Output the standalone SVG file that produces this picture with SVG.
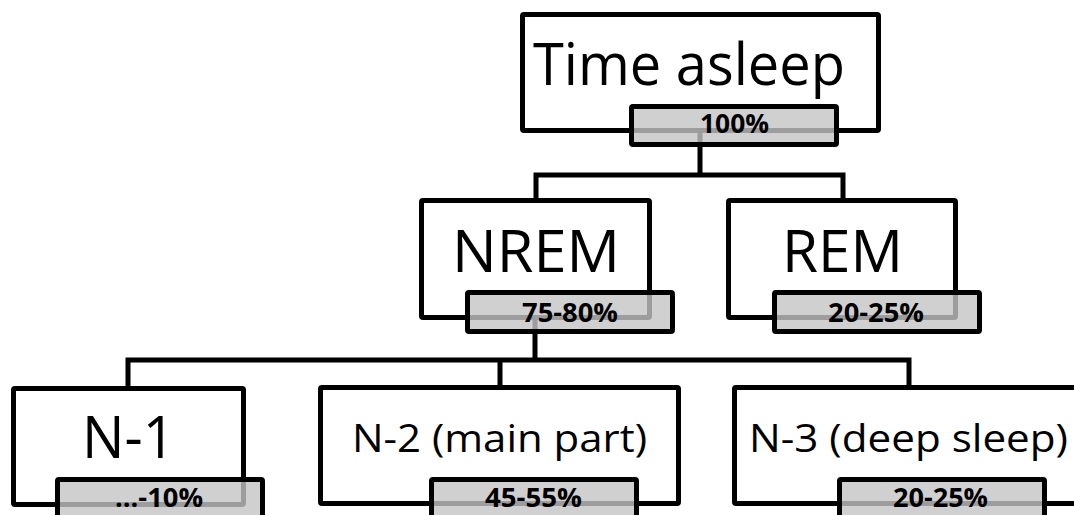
<svg xmlns="http://www.w3.org/2000/svg" width="1074" height="515" viewBox="0 0 1074 515">
<style>
.box{fill:#fff;stroke:#000;stroke-width:5}
.lab{fill:#c4c4c4;fill-opacity:0.8;stroke:#000;stroke-width:5}
.con{fill:none;stroke:#000;stroke-width:5}
.big{font-family:"Open Sans","Noto Sans",sans-serif;font-size:59px;fill:#000;text-anchor:middle}
.mid{font-family:"Open Sans","Noto Sans",sans-serif;font-size:38px;fill:#000;text-anchor:middle}
.pct{font-family:"Open Sans","Noto Sans",sans-serif;font-size:26px;font-weight:bold;fill:#000;text-anchor:middle}
</style>
<rect width="1074" height="515" fill="#fff"/>
<g id="boxes">
<g id="time-asleep-box"><rect class="box" x="522.5" y="14.5" width="356" height="116" rx="1.5"/><text class="big" x="689" y="85" textLength="312" lengthAdjust="spacingAndGlyphs">Time asleep</text></g>
<g id="nrem-box"><rect class="box" x="421.5" y="200.5" width="228" height="117" rx="1.5"/><text class="big" x="536" y="272" textLength="168" lengthAdjust="spacingAndGlyphs">NREM</text></g>
<g id="rem-box"><rect class="box" x="728.5" y="200.5" width="227" height="117" rx="1.5"/><text class="big" x="842.5" y="272" textLength="121" lengthAdjust="spacingAndGlyphs">REM</text></g>
<g id="n1-box"><rect class="box" x="13.5" y="388.5" width="230" height="116" rx="1.5"/><text class="big" x="128.5" y="458" font-size="57" textLength="93" lengthAdjust="spacingAndGlyphs">N-1</text></g>
<g id="n2-box"><rect class="box" x="320.5" y="387.5" width="358" height="116" rx="1.5"/><text class="mid" x="499.5" y="452" textLength="295" lengthAdjust="spacingAndGlyphs">N-2 (main part)</text></g>
<g id="n3-box"><rect class="box" x="734.5" y="387.5" width="349" height="116" rx="1.5"/><text class="mid" x="908.5" y="452" textLength="319" lengthAdjust="spacingAndGlyphs">N-3 (deep sleep)</text></g>
</g>
<g id="connectors">
<path class="con" d="M700,131 V175 M533.5,175 H845.5 M536,175 V200 M843,175 V200"/>
<path class="con" d="M535,318 V360 M125.5,360 H911.5 M128,360 V388 M500,360 V388 M909,360 V388"/>
</g>
<g id="labels">
<g id="time-asleep"><rect class="lab" x="631.5" y="106.5" width="205" height="38" rx="1.5"/><text class="pct" x="734.5" y="133" textLength="69" lengthAdjust="spacingAndGlyphs">100%</text></g>
<g id="nrem"><rect class="lab" x="467.5" y="292.5" width="205" height="39" rx="1.5"/><text class="pct" x="570" y="322" textLength="96" lengthAdjust="spacingAndGlyphs">75-80%</text></g>
<g id="rem"><rect class="lab" x="774.5" y="292.5" width="205" height="39" rx="1.5"/><text class="pct" x="876" y="322" textLength="96" lengthAdjust="spacingAndGlyphs">20-25%</text></g>
<g id="n1"><rect class="lab" x="57.5" y="479.5" width="205" height="39" rx="1.5"/><text class="pct" x="159" y="507" textLength="88" lengthAdjust="spacingAndGlyphs">...-10%</text></g>
<g id="n2"><rect class="lab" x="431.5" y="479.5" width="205" height="39" rx="1.5"/><text class="pct" x="533.5" y="507" textLength="97" lengthAdjust="spacingAndGlyphs">45-55%</text></g>
<g id="n3"><rect class="lab" x="839.5" y="479.5" width="205" height="39" rx="1.5"/><text class="pct" x="940.5" y="507" textLength="95" lengthAdjust="spacingAndGlyphs">20-25%</text></g>
</g>
</svg>
